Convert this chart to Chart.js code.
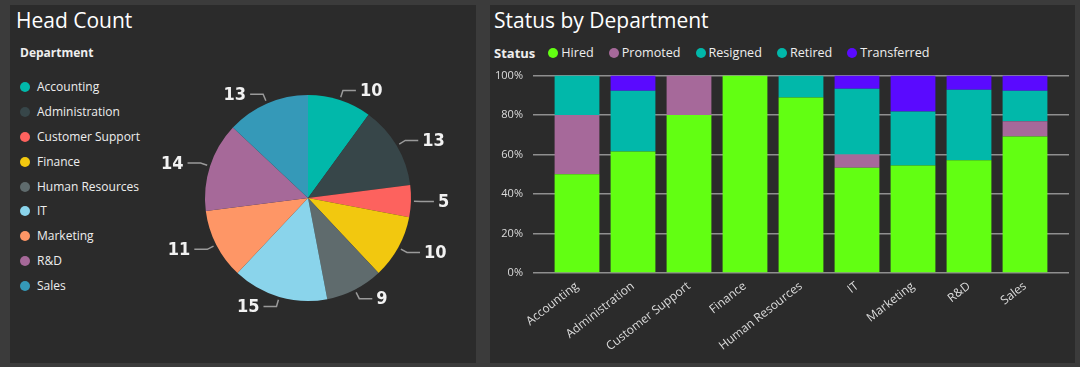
<!DOCTYPE html>
<html lang="en">
<head>
<meta charset="UTF-8">
<title>Head Count / Status by Department</title>
<style>
  body { margin:0; width:1080px; height:367px; overflow:hidden; background:#3b3b3b;
         font-family:'Segoe UI','Open Sans',sans-serif; color:#eee; position:relative; }
  .panel { position:absolute; background:#2b2b2b; }
  .title { position:absolute; margin:0; font-weight:400; font-size:21px; line-height:24px; color:#fff; }
  canvas { position:absolute; }
  #deptLegend { position:absolute; left:20px; top:45px; font-size:12px; }
  #deptLegend .head { font-weight:700; height:20px; line-height:16px; margin-bottom:14px; }
  #deptLegend .item { height:24.9px; line-height:16px; display:flex; align-items:flex-start; }
  .dot { display:inline-block; width:10px; height:10px; border-radius:50%; margin-top:3px; }
  #deptLegend .dot { margin-right:7px; }
  #statusLegend { position:absolute; left:494px; top:45px; font-size:12.6px; line-height:16px; display:flex; }
  #statusLegend .head { font-weight:700; font-size:13px; margin-right:13px; }
  #statusLegend .item { display:flex; margin-right:15px; }
  #statusLegend .dot { margin-right:3px; }
</style>
</head>
<body>

<div class="panel" style="left:10px; top:5px; width:466px; height:358px;"></div>
<div class="panel" style="left:490px; top:5px; width:585px; height:358px;"></div>

<div class="title" style="left:16px; top:8px;">Head Count</div>
<div class="title" style="left:494px; top:8px;">Status by Department</div>

<div id="deptLegend"></div>
<div id="statusLegend"></div>

<canvas id="pieChart" style="left:10px; top:5px;" width="466" height="358"></canvas>
<canvas id="barChart" style="left:489px; top:59px;" width="580" height="301"></canvas>

<script src="https://cdn.jsdelivr.net/npm/chart.js"></script>
<script>
// Head count per department
const departments = ['Accounting', 'Administration', 'Customer Support', 'Finance', 'Human Resources', 'IT', 'Marketing', 'R&D', 'Sales'];
const headCount = [10, 13, 5, 10, 9, 15, 11, 14, 13];
const deptColors = ['#01b8aa', '#374649', '#fd625e', '#f2c80f', '#5f6b6d', '#8ad4eb', '#fe9666', '#a66999', '#3599b8'];

// Status share per department (% of department)
const statuses = ['Hired', 'Promoted', 'Resigned', 'Retired', 'Transferred'];
const hired       = [50, 61.5, 80, 100, 88.9, 53.3, 54.5, 57.1, 69.2];
const promoted    = [30, 0, 20, 0, 0, 6.7, 0, 0, 7.7];
const resigned    = [20, 30.8, 0, 0, 11.1, 33.3, 27.3, 35.7, 15.4];
const retired     = [0, 0, 0, 0, 0, 0, 0, 0, 0];
const transferred = [0, 7.7, 0, 0, 0, 6.7, 18.2, 7.2, 7.7];
const statusColors = ['#62ff12', '#a6699a', '#01b8aa', '#01b8aa', '#5a0aff'];
const yTicks = [0, 20, 40, 60, 80, 100];

const uiFont = "'Segoe UI', 'Open Sans', sans-serif";

// html legends (Power BI style, title inline for status)
const deptLegend = document.getElementById('deptLegend');
deptLegend.innerHTML = '<div class="head">Department</div>' + departments.map((d, i) =>
    `<div class="item"><span class="dot" style="background:${deptColors[i]}"></span><span>${d.replace('&', '&amp;')}</span></div>`).join('');

const statusLegend = document.getElementById('statusLegend');
statusLegend.innerHTML = '<div class="head">Status</div>' + statuses.map((s, i) =>
    `<div class="item"><span class="dot" style="background:${statusColors[i]}"></span><span>${s}</span></div>`).join('');

// outside labels with little leader lines
const pieLabels = {
    id: 'pieLabels',
    afterDatasetsDraw(chart) {
        const ctx = chart.ctx;
        const meta = chart.getDatasetMeta(0);
        const values = chart.data.datasets[0].data;
        ctx.save();
        ctx.strokeStyle = '#9a9a9a';
        ctx.lineWidth = 1.5;
        ctx.fillStyle = '#f2f2f2';
        ctx.font = "bold 18px 'DejaVu Sans Condensed', 'Liberation Sans Narrow', sans-serif";
        ctx.textBaseline = 'middle';
        meta.data.forEach((arc, i) => {
            const p = arc.getProps(['x', 'y', 'startAngle', 'endAngle', 'outerRadius'], true);
            const mid = (p.startAngle + p.endAngle) / 2;
            const c = Math.cos(mid), s = Math.sin(mid);
            const x0 = p.x + c * (p.outerRadius + 3), y0 = p.y + s * (p.outerRadius + 3);
            const x1 = p.x + c * (p.outerRadius + 10), y1 = p.y + s * (p.outerRadius + 10);
            const right = c >= 0;
            const x2 = x1 + (right ? 13 : -13);
            ctx.beginPath();
            ctx.moveTo(x0, y0);
            ctx.lineTo(x1, y1);
            ctx.lineTo(x2, y1);
            ctx.stroke();
            ctx.textAlign = right ? 'left' : 'right';
            ctx.fillText(String(values[i]), x2 + (right ? 4 : -4), y1 + 1);
        });
        ctx.restore();
    }
};

new Chart(document.getElementById('pieChart'), {
    type: 'pie',
    data: {
        labels: departments,
        datasets: [{
            data: headCount,
            backgroundColor: deptColors,
            borderWidth: 0,
            radius: 103
        }]
    },
    options: {
        responsive: false,
        animation: false,
        layout: { padding: { left: 188, top: 83, right: 58, bottom: 55 } },
        plugins: { legend: { display: false }, tooltip: { enabled: false } }
    },
    plugins: [pieLabels]
});

const statusData = [hired, promoted, resigned, retired, transferred];

new Chart(document.getElementById('barChart'), {
    type: 'bar',
    data: {
        labels: departments,
        datasets: statuses.map((s, i) => ({
            label: s,
            data: statusData[i],
            backgroundColor: statusColors[i],
            borderWidth: 0,
            categoryPercentage: 1,
            barPercentage: 0.8
        }))
    },
    options: {
        responsive: false,
        animation: false,
        layout: { padding: { top: 0, left: 0, right: 0, bottom: 0 } },
        plugins: { legend: { display: false }, tooltip: { enabled: false } },
        scales: {
            x: {
                stacked: true,
                grid: { display: false, drawTicks: false },
                border: { display: false },
                ticks: {
                    color: '#dcdcdc',
                    font: { family: uiFont, size: 12 },
                    minRotation: 38, maxRotation: 38,
                    padding: 6,
                    autoSkip: false
                },
                afterFit: (scale) => { scale.height = 87; }
            },
            y: {
                stacked: true,
                min: 0, max: 100,
                afterBuildTicks: (scale) => { scale.ticks = yTicks.map(v => ({ value: v })); },
                grid: { color: '#8f8f8f', lineWidth: 1.5, tickLength: 16, tickColor: '#8f8f8f' },
                border: { display: false },
                ticks: {
                    color: '#dcdcdc',
                    font: { family: uiFont, size: 11 },
                    padding: 10,
                    callback: (v) => v + '%'
                },
                afterFit: (scale) => { scale.width = 60; }
            },
            y2: {
                position: 'right',
                min: 0, max: 100,
                afterBuildTicks: (scale) => { scale.ticks = yTicks.map(v => ({ value: v })); },
                grid: { drawOnChartArea: false, tickLength: 16, tickColor: '#8f8f8f', lineWidth: 1.5 },
                border: { display: false },
                ticks: { display: false },
                afterFit: (scale) => { scale.width = 16; }
            }
        }
    }
});
</script>
</body>
</html>
